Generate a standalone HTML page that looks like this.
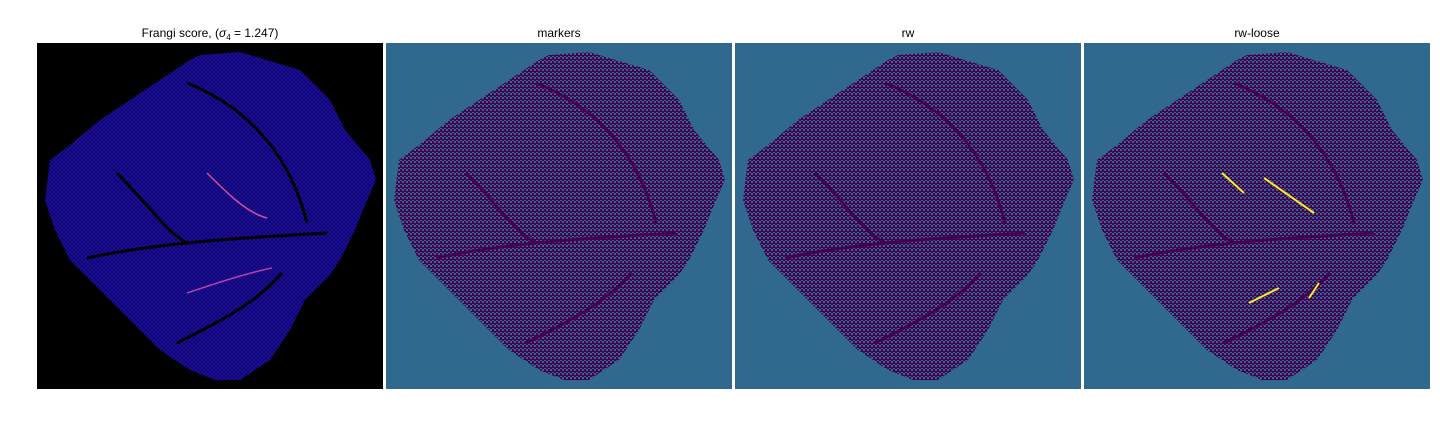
<!DOCTYPE html>
<html><head><meta charset="utf-8"><style>
body{margin:0;background:#fff;width:1440px;height:432px;overflow:hidden;font-family:"Liberation Sans","DejaVu Sans",sans-serif}
</style></head><body>
<svg width="1440" height="432">
<defs>
<pattern id="p1" width="4" height="4" patternUnits="userSpaceOnUse"><rect width="4" height="4" fill="#0e0768"/><rect width="2" height="2" fill="#1c0ca0"/><rect x="2" y="2" width="2" height="2" fill="#1c0ca0"/></pattern>
<pattern id="p2" width="4" height="4" patternUnits="userSpaceOnUse"><rect width="4" height="4" fill="#31688e"/><rect width="2" height="2" fill="#440154"/><rect x="2" y="2" width="2" height="2" fill="#440154"/><rect x="2" width="2" height="1" fill="#440154"/></pattern>
<polygon id="leaf" points="163,12 203,9 263,27 293,57 308,87 333,117 339,137 328,162 318,187 303,217 293,232 268,257 253,287 233,317 203,337 178,337 153,327 123,307 93,277 63,247 33,217 18,187 8,157 13,117 33,102 63,77 93,57 123,37 153,17"/>
<g id="veins" fill="none" stroke-width="3">
<path d="M50,215 C120,200 200,195 290,190"/>
<path d="M150,40 C200,60 250,100 270,180"/>
<path d="M140,300 C180,280 220,260 245,230"/>
<path d="M80,130 C110,160 130,190 150,200"/>
</g>
</defs>
<g>
<text x="210" y="37" font-size="12" text-anchor="middle">Frangi score, (<tspan font-style="italic">σ</tspan><tspan font-size="8" dy="3">4</tspan><tspan dy="-3"> = 1.247)</tspan></text>
<rect x="37" y="43" width="346" height="346" fill="#000"/>
<g transform="translate(37,43)"><use href="#leaf" fill="url(#p1)"/><use href="#veins" stroke="#000"/><path d="M170,130 C190,150 210,170 230,175" stroke="#d04fa0" stroke-width="1.5" fill="none"/><path d="M150,250 C180,240 210,230 235,225" stroke="#b040b0" stroke-width="1.5" fill="none"/></g>
</g>
<g>
<text x="559" y="37" font-size="12" text-anchor="middle">markers</text>
<rect x="386" y="43" width="346" height="346" fill="#31688e"/>
<g transform="translate(386,43)"><use href="#leaf" fill="url(#p2)"/><use href="#veins" stroke="#440154"/></g>
</g>
<g>
<text x="908" y="37" font-size="12" text-anchor="middle">rw</text>
<rect x="735" y="43" width="346" height="346" fill="#31688e"/>
<g transform="translate(735,43)"><use href="#leaf" fill="url(#p2)"/><use href="#veins" stroke="#440154"/></g>
</g>
<g>
<text x="1257" y="37" font-size="12" text-anchor="middle">rw-loose</text>
<rect x="1084" y="43" width="346" height="346" fill="#31688e"/>
<g transform="translate(1084,43)"><use href="#leaf" fill="url(#p2)"/><use href="#veins" stroke="#440154"/>
<path d="M138,130 L160,150 M180,135 L230,170 M165,260 L195,245 M225,255 L235,240" stroke="#fde725" stroke-width="2" fill="none"/></g>
</g>
</svg>
</body></html>
